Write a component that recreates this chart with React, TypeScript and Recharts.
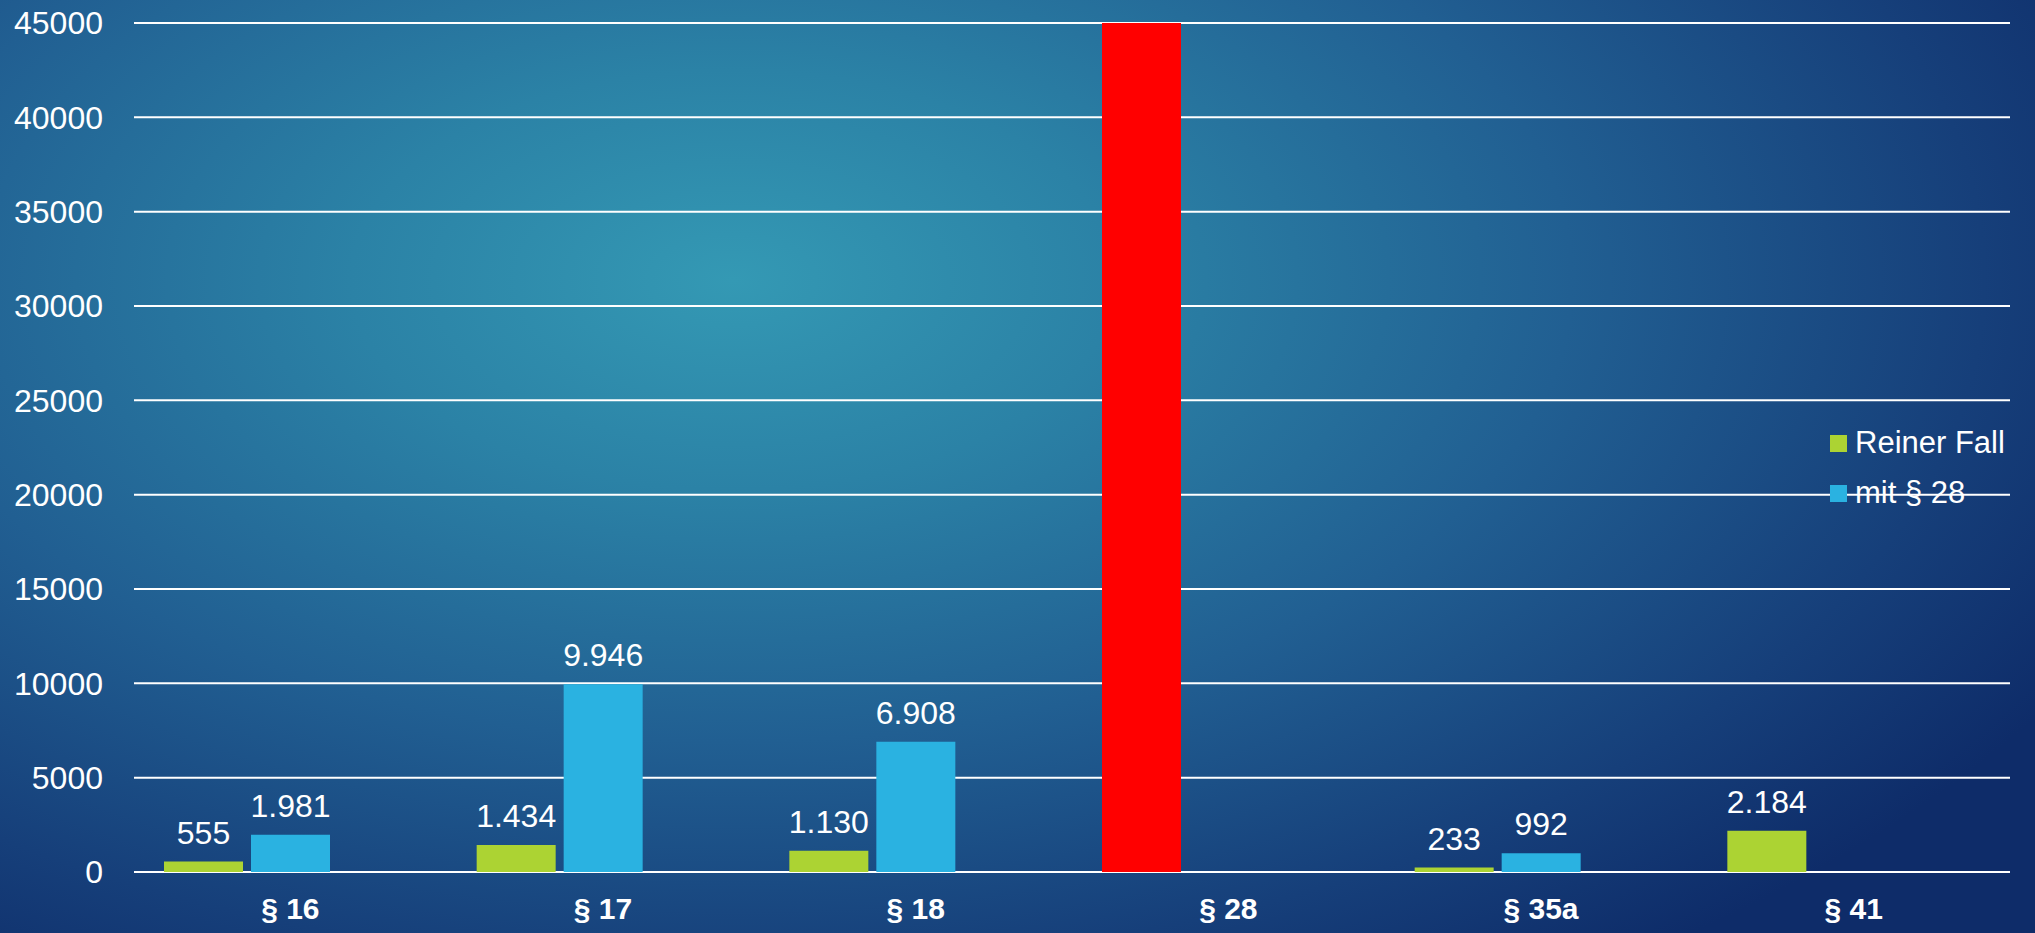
import { Bar, BarChart, CartesianGrid, Cell, LabelList, Legend, XAxis, YAxis } from 'recharts';

const categories = ['§ 16', '§ 17', '§ 18', '§ 28', '§ 35a', '§ 41'];
const reinerFall = [555, 1434, 1130, 45000, 233, 2184];
const mitParagraph28 = [1981, 9946, 6908, null, 992, null];
const leer = [null, null, null, null, null, null];
const yTicks = [0, 5000, 10000, 15000, 20000, 25000, 30000, 35000, 40000, 45000];
const highlightCategory = '§ 28';

const data = categories.map((name, i) => ({
  name,
  reinerFall: reinerFall[i],
  mit28: mitParagraph28[i],
  leer: leer[i],
}));

const FONT = '"Liberation Sans", Arial, sans-serif';

const formatDE = (v: any) => {
  if (v == null || v >= 45000) return '';
  return String(v).replace(/\B(?=(\d{3})+(?!\d))/g, '.');
};

function LegendBox({ payload }: any) {
  const items = (payload || []).filter((p: any) => p.value === 'Reiner Fall' || p.value === 'mit § 28');
  return (
    <div style={{ fontFamily: FONT }}>
      {items.map((p: any) => (
        <div key={p.value} style={{ display: 'flex', alignItems: 'center', height: 50 }}>
          <span style={{ width: 17, height: 17, background: p.color, display: 'inline-block', marginRight: 8 }} />
          <span style={{ color: '#fff', fontSize: 31 }}>{p.value}</span>
        </div>
      ))}
    </div>
  );
}

export default function App() {
  return (
    <div
      style={{
        position: 'absolute',
        left: 0,
        top: 0,
        width: 2035,
        height: 933,
        background:
          'radial-gradient(ellipse 75% 90% at 36% 30%, #3499b4 0%, #2b82a6 25%, #215f92 55%, #163f7a 82%, #0e2c69 100%)',
        fontFamily: FONT,
      }}
    >
      <BarChart
        width={2035}
        height={933}
        data={data}
        margin={{ top: 23, right: 25, bottom: 0, left: 0 }}
        barCategoryGap={30}
        barGap={8}
      >
        <CartesianGrid vertical={false} stroke="#ffffff" strokeWidth={2} />
        <XAxis
          dataKey="name"
          height={61}
          axisLine={false}
          tickLine={false}
          tickSize={0}
          tickMargin={26}
          tick={{ fill: '#ffffff', fontSize: 30, fontWeight: 'bold', fontFamily: FONT }}
        />
        <YAxis
          width={134}
          domain={[0, 45000]}
          ticks={yTicks}
          allowDataOverflow
          axisLine={false}
          tickLine={false}
          tickSize={0}
          tickMargin={31}
          tick={{ fill: '#ffffff', fontSize: 32, fontFamily: FONT }}
        />
        <Legend
          layout="vertical"
          align="center"
          verticalAlign="middle"
          content={<LegendBox />}
          wrapperStyle={{ top: 418, left: 1830, width: 205 }}
        />
        <Bar dataKey="reinerFall" name="Reiner Fall" fill="#acd333" isAnimationActive={false}>
          {data.map((d) => (
            <Cell key={d.name} fill={d.name === highlightCategory ? '#ff0000' : '#acd333'} />
          ))}
          <LabelList
            dataKey="reinerFall"
            position="top"
            offset={18}
            formatter={formatDE}
            fill="#ffffff"
            fontSize={32}
            fontFamily={FONT}
          />
        </Bar>
        <Bar dataKey="mit28" name="mit § 28" fill="#2ab2e1" isAnimationActive={false}>
          <LabelList
            dataKey="mit28"
            position="top"
            offset={18}
            formatter={formatDE}
            fill="#ffffff"
            fontSize={32}
            fontFamily={FONT}
          />
        </Bar>
        <Bar dataKey="leer" name="leer" legendType="none" fill="#7f7f7f" isAnimationActive={false} />
      </BarChart>
    </div>
  );
}
